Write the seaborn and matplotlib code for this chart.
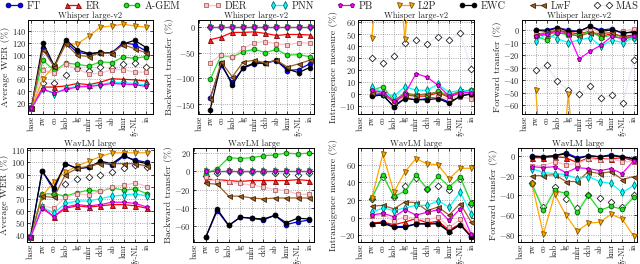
import numpy as np
import pandas as pd
import seaborn as sns
import matplotlib
matplotlib.use("Agg")
import matplotlib.pyplot as plt

# Tareas (idiomas) en el eje x
tareas = ["base", "rw", "co", "kab", "lg", "mhr", "ckb", "ab", "kmr", "fy-NL", "ia"]
metodos = ["FT", "ER", "A-GEM", "DER", "PNN", "PB", "L2P", "EWC", "LwF", "MAS"]
nan = np.nan

# Whisper large-v2: WER promedio
whisper_wer = {
    "FT":    [11, 112, 80, 121, 104, 101, 103, 103, 120, 117, 106],
    "ER":    [11, 46, 46, 48, 52, 50, 54, 60, 59, 58, 56],
    "A-GEM": [11, 91, 73, 86, 84, 81, 88, 87, 96, 94, 97],
    "DER":   [11, 74, 69, 85, 76, 68, 69, 75, 75, 71, 71],
    "PNN":   [11, 42, 35, 44, 47, 48, 50, 54, 53, 52, 49],
    "PB":    [11, 42, 36, 42, 46, 47, 49, 52, 51, 50, 47],
    "L2P":   [11, 60, 82, 118, 118, 131, 146, 148, 151, 148, 146],
    "EWC":   [11, 120, 81, 125, 108, 102, 104, 103, 118, 124, 112],
    "LwF":   [11, 108, 80, 118, 99, 97, 103, 102, 117, 110, 103],
    "MAS":   [11, 53, 52, 66, 78, 73, 79, 78, 84, 86, 80],
}

# Whisper large-v2: transferencia hacia atrás
whisper_bwt = {
    "FT":    [nan, -138, -75, -108, -80, -72, -70, -66, -85, -83, -72],
    "ER":    [nan, -25, -20, -11, -11, -10, -13, -17, -15, -15, -16],
    "A-GEM": [nan, -102, -55, -59, -48, -44, -50, -44, -55, -54, -58],
    "DER":   [nan, -70, -54, -58, -42, -31, -29, -33, -35, -31, -32],
    "PNN":   [nan, 0, 0, 0, 0, 0, 0, 0, 0, 0, 0],
    "PB":    [nan, 0, 0, 0, 0, 0, 0, 0, 0, 0, 0],
    "L2P":   [nan, 0, 0, 0, 0, 0, 0, 0, 0, 0, 0],
    "EWC":   [nan, -161, -70, -113, -79, -70, -70, -65, -82, -89, -79],
    "LwF":   [nan, -140, -68, -97, -68, -65, -70, -65, -78, -72, -65],
    "MAS":   [nan, -1, -1, -1, -1, -1, -1, -1, -1, -1, -1],
}

# Whisper large-v2: medida de intransigencia
whisper_im = {
    "FT":    [nan, -1, -1, -11, -3, -5, -4, -3, -7, -2, 0],
    "ER":    [nan, 2, 2, -7, -1, -2, -2, 1, -3, 1, 1],
    "A-GEM": [nan, 3, 6, -6, 1, -1, -1, 2, -1, 2, 3],
    "DER":   [nan, 1, 0, -8, -3, -4, -5, -3, -4, -3, -4],
    "PNN":   [nan, 6, 1, -2, 6, 3, 3, 8, 1, 3, 2],
    "PB":    [nan, 3, 1, -6, 0, 17, 14, 7, -2, 1, 1],
    "L2P":   [nan, 47, 150, 150, 46, 150, 150, 150, 150, 150, 150],
    "EWC":   [nan, -2, -1, -11, -4, -5, -5, -4, -8, -2, 0],
    "LwF":   [nan, 1, 0, -7, -1, -1, 0, 1, -2, 2, 3],
    "MAS":   [nan, 30, 26, 32, 43, 45, 42, 48, 45, 51, 21],
}

# Whisper large-v2: transferencia hacia adelante
whisper_fwt = {
    "FT":    [nan, 0, 0, 2, 0, -1, 3, 0, 1, -3, -1],
    "ER":    [nan, -4, -4, 0, -2, -3, -1, -5, -3, -5, -4],
    "A-GEM": [nan, -5, -8, -2, -4, -4, -1, -6, -4, -7, -6],
    "DER":   [nan, -3, -2, 2, -1, -1, 1, -2, -2, -1, 1],
    "PNN":   [nan, -9, -3, -7, -10, -8, -6, -13, -8, -10, -6],
    "PB":    [nan, -5, -3, -2, -3, -23, -17, -12, -5, -7, -5],
    "L2P":   [nan, -48, -150, -150, -51, -150, -150, -150, -150, -150, -150],
    "EWC":   [nan, 0, -1, 2, -1, -1, 3, -1, 0, -2, -2],
    "LwF":   [nan, -4, -2, 0, -3, -5, -2, -3, -2, -6, -5],
    "MAS":   [nan, -32, -28, -41, -48, -51, -45, -54, -52, -58, -24],
}

# WavLM large: WER promedio
wavlm_wer = {
    "FT":    [38, 93, 77, 99, 95, 96, 100, 98, 105, 102, 100],
    "ER":    [38, 63, 55, 62, 64, 63, 64, 65, 65, 64, 62],
    "A-GEM": [38, 74, 74, 72, 75, 77, 76, 79, 77, 78, 74],
    "DER":   [38, 64, 62, 71, 74, 73, 76, 80, 81, 83, 80],
    "PNN":   [38, 63, 58, 66, 68, 68, 70, 72, 73, 74, 72],
    "PB":    [38, 62, 55, 63, 65, 64, 65, 67, 67, 66, 63],
    "L2P":   [38, 72, 84, 92, 97, 101, 105, 108, 108, 108, 108],
    "EWC":   [38, 93, 79, 99, 95, 96, 101, 99, 106, 101, 99],
    "LwF":   [38, 72, 71, 90, 95, 97, 99, 99, 99, 99, 97],
    "MAS":   [38, 72, 74, 82, 86, 88, 90, 92, 95, 98, 96],
}

# WavLM large: transferencia hacia atrás
wavlm_bwt = {
    "FT":    [nan, -72, -43, -59, -50, -51, -53, -48, -58, -55, -53],
    "ER":    [nan, -9, -9, -10, -11, -10, -10, -10, -10, -9, -10],
    "A-GEM": [nan, -3, 3, 15, 14, 15, 17, 18, 20, 19, 20],
    "DER":   [nan, -6, -10, -12, -13, -15, -17, -20, -21, -25, -25],
    "PNN":   [nan, 0, 0, 0, 0, 0, 0, 0, 0, 0, 0],
    "PB":    [nan, 0, 0, 0, 0, 0, 0, 0, 0, 0, 0],
    "L2P":   [nan, 0, 0, 0, 0, 0, 0, 0, 0, 0, 0],
    "EWC":   [nan, -72, -41, -59, -50, -51, -52, -48, -56, -51, -52],
    "LwF":   [nan, -13, -14, -27, -27, -29, -30, -29, -29, -29, -29],
    "MAS":   [nan, -5, -2, 0, -1, -1, -1, -2, -3, -4, -2],
}

# WavLM large: medida de intransigencia
wavlm_im = {
    "FT":    [nan, -7, -5, -10, -10, -7, -7, -6, -15, -8, -21],
    "ER":    [nan, -6, -5, -8, -5, -1, -6, -4, -14, -7, -21],
    "A-GEM": [nan, 22, 48, 24, 30, 48, 33, 47, 35, 46, 17],
    "DER":   [nan, 2, 4, -4, 1, -1, -3, 1, -11, -2, -20],
    "PNN":   [nan, 6, 11, 8, 11, 14, 14, 19, 12, 29, 4],
    "PB":    [nan, 3, 5, 1, 9, 3, 6, 9, -3, 10, -19],
    "L2P":   [nan, 22, 72, 29, 52, 67, 61, 60, 44, 56, 56],
    "EWC":   [nan, -7, -6, -11, -11, -7, -7, -7, -16, -8, -22],
    "LwF":   [nan, 13, 14, 10, 18, 17, 8, 12, 3, 16, -5],
    "MAS":   [nan, 21, 46, 23, 36, 45, 32, 36, 31, 44, 16],
}

# WavLM large: transferencia hacia adelante
wavlm_fwt = {
    "FT":    [nan, 0, -1, 0, 3, -2, 0, -1, 1, -1, -3],
    "ER":    [nan, -2, -2, -1, -2, -7, -2, -3, -3, -2, -5],
    "A-GEM": [nan, -29, -55, -35, -38, -57, -40, -55, -51, -54, -42],
    "DER":   [nan, -10, -10, -6, -9, -8, -3, -4, -3, -6, -6],
    "PNN":   [nan, -13, -17, -18, -19, -23, -21, -26, -28, -37, -30],
    "PB":    [nan, -11, -12, -11, -17, -12, -13, -15, -13, -18, -5],
    "L2P":   [nan, -29, -79, -39, -60, -76, -68, -67, -59, -64, -81],
    "EWC":   [nan, -1, -1, 0, 2, -3, 0, -1, 0, -1, -3],
    "LwF":   [nan, -20, -20, -19, -26, -26, -16, -18, -16, -24, -21],
    "MAS":   [nan, -28, -52, -32, -44, -53, -40, -43, -47, -52, -40],
}

# Estilo de cada método: color de línea, marcador, relleno, borde y orden de dibujo
estilos = {
    "FT":    dict(color="#0000ff", marker="o", mfc="#0000ff", mec="#000060", ms=3.4, z=3.0),
    "ER":    dict(color="#ff0000", marker="^", mfc="#ff2020", mec="#800000", ms=3.6, z=3.0),
    "A-GEM": dict(color="#22dd22", marker="o", mfc="#22dd22", mec="#006000", ms=3.4, z=3.0),
    "DER":   dict(color="#ffc0cb", marker="s", mfc="#f6c6c6", mec="#b06060", ms=3.4, z=3.0),
    "PNN":   dict(color="#00ffff", marker="d", mfc="#00ffff", mec="#007070", ms=4.0, z=3.1),
    "PB":    dict(color="#ff00ff", marker="p", mfc="#ff00ff", mec="#600060", ms=3.6, z=3.3),
    "L2P":   dict(color="#ffa500", marker="v", mfc="#ffa500", mec="#805000", ms=3.6, z=3.0),
    "EWC":   dict(color="#000000", marker="o", mfc="#000000", mec="#000000", ms=3.4, z=3.0),
    "LwF":   dict(color="#a0602a", marker="<", mfc="#a0602a", mec="#402000", ms=3.6, z=3.0),
    "MAS":   dict(color="#ebe6fa", marker="D", mfc="white", mec="#202020", ms=3.4, z=2.5),
}

paneles = [
    (whisper_wer, "Whisper large-v2", "Average WER (%)", [20, 40, 60, 80, 100, 120, 140], (1, 158)),
    (whisper_bwt, "Whisper large-v2", "Backward transfer (%)", [-150, -100, -50, 0], (-169, 13)),
    (whisper_im, "Whisper large-v2", "Intransigence measure (%)", [-10, 0, 10, 20, 30, 40, 50, 60], (-17, 62)),
    (whisper_fwt, "Whisper large-v2", "Forward transfer (%)", [-60, -50, -40, -30, -20, -10, 0], (-67, 8)),
    (wavlm_wer, "WavLM large", "Average WER (%)", [40, 50, 60, 70, 80, 90, 100, 110], (34, 112)),
    (wavlm_bwt, "WavLM large", "Backward transfer (%)", [-60, -40, -20, 0, 20], (-77, 25.5)),
    (wavlm_im, "WavLM large", "Intransigence measure (%)", [-20, 0, 20, 40, 60], (-27.6, 79)),
    (wavlm_fwt, "WavLM large", "Forward transfer (%)", [-80, -60, -40, -20, 0], (-87, 7.8)),
]

# Posición de cada eje en píxeles (izquierda, derecha, arriba, abajo)
cajas = [
    (28, 153, 20, 114), (198, 314, 20, 114), (358, 474, 20, 114), (522, 637, 20, 114),
    (27, 154, 148, 242), (193, 314, 148, 242), (358, 474, 148, 242), (518, 637, 148, 242),
]
limites_x = [(-0.3, 10.6), (-0.1, 10.4), (-0.25, 10.25), (-0.25, 10.3)] * 2

sns.set_style("ticks")
plt.rcParams["font.family"] = "serif"
plt.rcParams["font.serif"] = ["cmr10", "DejaVu Serif"]
plt.rcParams["mathtext.fontset"] = "cm"
plt.rcParams["axes.formatter.use_mathtext"] = True

W, H = 640, 264
fig = plt.figure(figsize=(W / 100, H / 100), dpi=100)

posiciones = np.arange(len(tareas))
manejadores, etiquetas = None, None

for (datos, titulo, ylabel, yticks, ylim), (l, r, t, b), xlim in zip(paneles, cajas, limites_x):
    ax = fig.add_axes([l / W, 1 - b / H, (r - l) / W, (b - t) / H])
    for m in metodos:
        e = estilos[m]
        df = pd.DataFrame({"pos": posiciones, "valor": datos[m]}).dropna()
        sns.lineplot(data=df, x="pos", y="valor", ax=ax, color=e["color"], marker=e["marker"],
                     markersize=e["ms"], markerfacecolor=e["mfc"], markeredgecolor=e["mec"],
                     markeredgewidth=0.6, linewidth=0.9, label=m, zorder=e["z"])
    if ax.get_legend() is not None:
        ax.get_legend().remove()
    ax.set_xlim(*xlim)
    ax.set_ylim(*ylim)
    ax.set_xticks(posiciones)
    ax.set_xticklabels(tareas, rotation=90, fontsize=5.8)
    ax.set_yticks(yticks)
    ax.tick_params(axis="y", labelsize=6)
    ax.tick_params(direction="in", top=True, right=True, length=2.5, width=0.6, pad=1.5)
    ax.grid(True, linestyle=":", color="0.55", linewidth=0.6)
    ax.set_xlabel("")
    ax.set_ylabel(ylabel, fontsize=7, labelpad=1)
    ax.set_title(titulo, fontsize=6.2, pad=1.5)
    for s in ax.spines.values():
        s.set_linewidth(0.7)
        s.set_color("black")
    if manejadores is None:
        manejadores, etiquetas = ax.get_legend_handles_labels()

fig.legend(manejadores, etiquetas, loc="lower left", bbox_to_anchor=(0.008, 1 - 11 / H, 0.99, 10 / H),
           mode="expand", ncol=10, frameon=False, fontsize=7.4, numpoints=2, handlelength=1.7,
           handletextpad=0.4, borderaxespad=0, borderpad=0)

fig.savefig("out.png", dpi=100)
